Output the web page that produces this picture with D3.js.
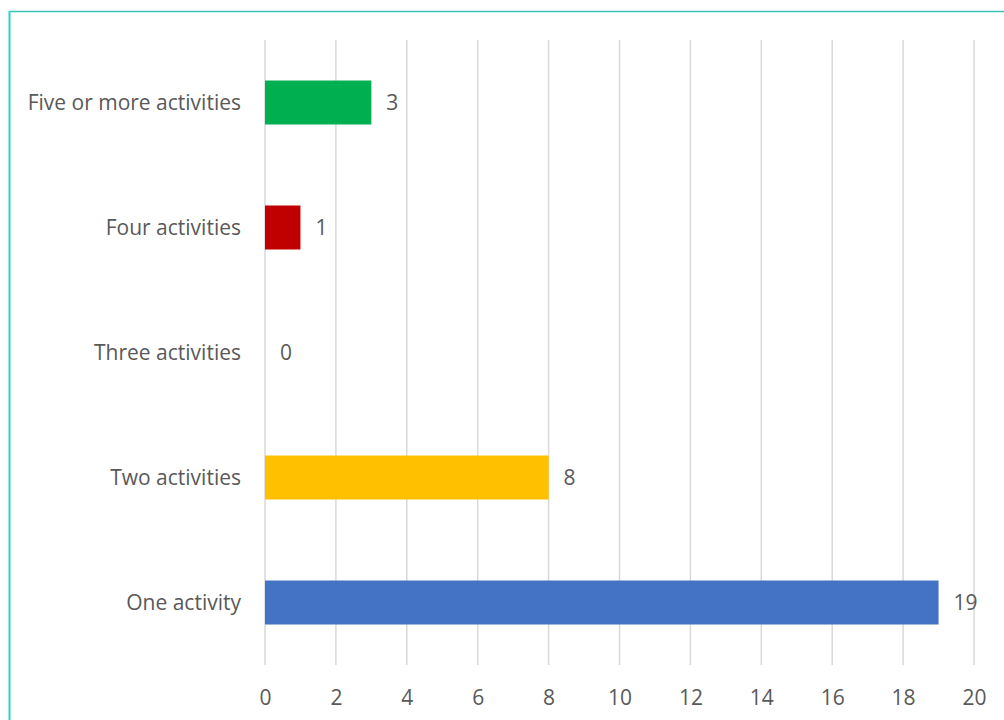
<!DOCTYPE html>
<html>
<head>
<meta charset="utf-8">
<script src="https://cdn.jsdelivr.net/npm/d3@7"></script>
<style>
  html, body { margin: 0; padding: 0; background: #fff; }
  svg { display: block; }
  text { font-family: "Open Sans", sans-serif; fill: #595959; }
</style>
</head>
<body>
<svg id="chart" width="1004" height="720"></svg>
<script>
// Number of activities per respondent
const categories = ["Five or more activities", "Four activities", "Three activities", "Two activities", "One activity"];
const values = [3, 1, 0, 8, 19];
const barColors = ["#00b050", "#c00000", "#7030a0", "#ffc000", "#4472c4"];
const xTicks = [0, 2, 4, 6, 8, 10, 12, 14, 16, 18, 20];

const svg = d3.select("#chart");
const W = 1004, H = 720;
const FONT = "'Open Sans', sans-serif";
const FS = 21;

// Plot area
const plot = { left: 265, right: 974, top: 40, bottom: 665 };

const x = d3.scaleLinear().domain([0, 20]).range([plot.left, plot.right]);
const y = d3.scaleBand()
  .domain(categories)
  .range([plot.top, plot.bottom])
  .paddingInner(0.648)
  .paddingOuter(0.324);

// Frame lines along the top and left edges
svg.append("line")
  .attr("x1", 9.5).attr("x2", W).attr("y1", 11.5).attr("y2", 11.5)
  .attr("stroke", "#3cc2b2").attr("stroke-width", 1.5);
svg.append("line")
  .attr("x1", 9.5).attr("x2", 9.5).attr("y1", 11).attr("y2", H)
  .attr("stroke", "#2fd3c3").attr("stroke-width", 2);

// Vertical gridlines
svg.append("g")
  .selectAll("line")
  .data(xTicks)
  .join("line")
  .attr("x1", d => x(d)).attr("x2", d => x(d))
  .attr("y1", plot.top).attr("y2", plot.bottom)
  .attr("stroke", "#d9d9d9").attr("stroke-width", 1.5);

// Bars
svg.append("g")
  .selectAll("rect")
  .data(categories)
  .join("rect")
  .attr("x", x(0))
  .attr("y", d => y(d))
  .attr("width", (d, i) => x(values[i]) - x(0))
  .attr("height", y.bandwidth())
  .attr("fill", (d, i) => barColors[i]);

// Value labels
svg.append("g")
  .selectAll("text")
  .data(categories)
  .join("text")
  .attr("x", (d, i) => x(values[i]) + 15)
  .attr("y", d => y(d) + y.bandwidth() / 2)
  .attr("dy", "0.38em")
  .attr("font-size", FS)
  .text((d, i) => values[i]);

// Category axis labels
const yAxis = d3.axisLeft(y).tickSize(0).tickPadding(24);
const gy = svg.append("g").attr("transform", `translate(${plot.left},0)`).call(yAxis);
gy.select(".domain").remove();
gy.selectAll("text").attr("font-size", FS).attr("font-family", FONT).attr("fill", "#595959").attr("dy", "0.38em");

// Value axis labels
const xAxis = d3.axisBottom(x).tickValues(xTicks).tickSize(0).tickPadding(25);
const gx = svg.append("g").attr("transform", `translate(0,${plot.bottom})`).call(xAxis);
gx.select(".domain").remove();
gx.selectAll("text").attr("font-size", FS).attr("font-family", FONT).attr("fill", "#595959");
</script>
</body>
</html>
